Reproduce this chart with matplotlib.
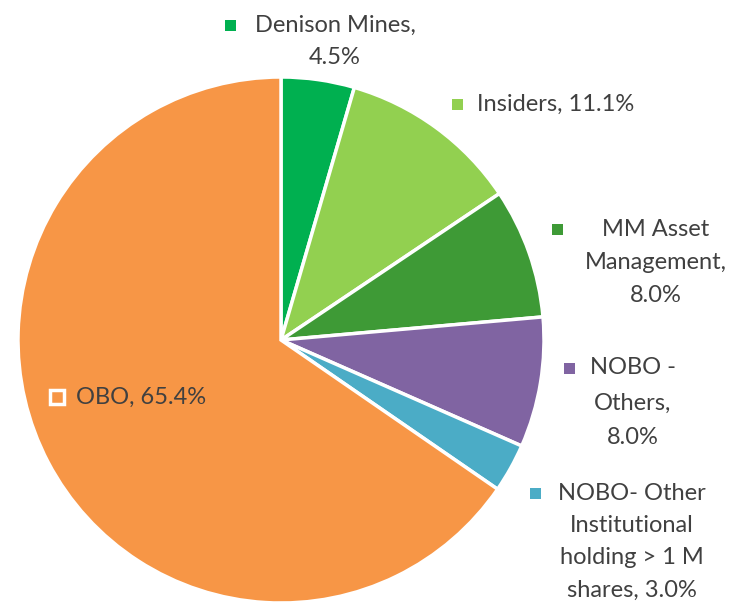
import matplotlib.pyplot as plt
from matplotlib.patches import Rectangle

# share of holdings, clockwise from 12 o'clock
labels = ["Denison Mines", "Insiders", "MM Asset Management",
          "NOBO - Others", "NOBO- Other Institutional holding > 1 M shares", "OBO"]
shares = [4.5, 11.1, 8.0, 8.0, 3.0, 65.4]
colors = ["#00B050", "#92D050", "#3E9A36", "#8064A2", "#4BACC6", "#F79646"]

# label text lines, as wrapped in the original
label_lines = [
    ["Denison Mines,", "4.5%"],
    ["Insiders, 11.1%"],
    ["MM Asset", "Management,", "8.0%"],
    ["NOBO -", "Others,", "8.0%"],
    ["NOBO- Other", "Institutional", "holding > 1 M", "shares, 3.0%"],
    ["OBO, 65.4%"],
]

W, H = 734, 603
fig = plt.figure(figsize=(W / 100, H / 100), dpi=100)
ax = fig.add_axes([0, 0, 1, 1])
ax.axis("off")

cx, cy, r = 281, H - 340, 263
ax.pie(shares, colors=colors, startangle=90, counterclock=False,
       center=(cx, cy), radius=r,
       wedgeprops=dict(edgecolor="white", linewidth=2.5))
ax.set_xlim(0, W)
ax.set_ylim(0, H)
ax.set_aspect("equal")

font = dict(family=["Lato", "DejaVu Sans"], fontsize=17, color="#404040")

# (marker x, first line y, text center x, line spacing) in pixel coords from top
placements = [
    (230, 25, 335, 33),
    (457, 104, 556, 33),
    (557, 229, 656, 33.5),
    (569, 368, 633, 35),
    (535, 493, 632, 32.3),
    (57, 397, 141, 33),
]

for (mx, y0, tx, dy), lines, col, name in zip(placements, label_lines, colors, labels):
    if name == "OBO":
        s = 14
        ax.add_patch(Rectangle((mx - s / 2, H - y0 - s / 2), s, s,
                               facecolor=col, edgecolor="white", linewidth=2.5, zorder=5))
    else:
        s = 11
        ax.add_patch(Rectangle((mx - s / 2, H - y0 - s / 2), s, s,
                               facecolor=col, edgecolor="none", zorder=5))
    for i, line in enumerate(lines):
        ax.text(tx, H - (y0 + i * dy), line, ha="center", va="center", zorder=6, **font)

fig.savefig("out.png", dpi=100, facecolor="white")
